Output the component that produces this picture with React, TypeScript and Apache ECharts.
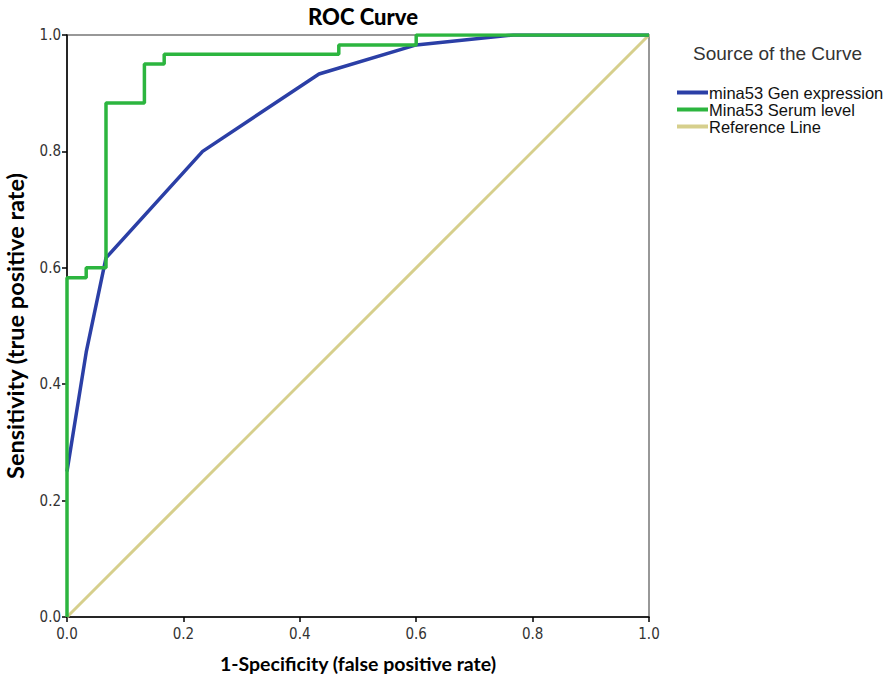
import React, { useEffect, useRef } from "react";
import * as echarts from "echarts";

const xTicks = [0, 0.2, 0.4, 0.6, 0.8, 1.0];
const geneFpr = [0, 0.033, 0.067, 0.233, 0.433, 0.6, 0.767, 1.0];
const geneSens = [0.25, 0.455, 0.617, 0.8, 0.933, 0.983, 1.0, 1.0];
const serumFpr = [0, 0, 0.033, 0.033, 0.067, 0.067, 0.133, 0.133, 0.167, 0.167, 0.467, 0.467, 0.6, 0.6, 1.0];
const serumSens = [0, 0.583, 0.583, 0.6, 0.6, 0.883, 0.883, 0.95, 0.95, 0.967, 0.967, 0.983, 0.983, 1.0, 1.0];
const refFpr = [0, 1];
const refSens = [0, 1];
const seriesNames = ["mina53 Gen expression", "Mina53 Serum level", "Reference Line"];

const zip = (a: number[], b: number[]) => a.map((v, i) => [v, b[i]]);

export default function App() {
  const ref = useRef<HTMLDivElement>(null);
  useEffect(() => {
    if (!ref.current) return;
    const chart = echarts.init(ref.current, null, { renderer: "svg" });
    const tickFont = { fontFamily: "Liberation Sans Narrow, DejaVu Sans Condensed, sans-serif", fontSize: 15, color: "#333" };
    chart.setOption({
      animation: false,
      backgroundColor: "#fff",
      title: {
        text: "ROC Curve",
        left: 358,
        top: 0,
        textAlign: "center",
        textStyle: { fontFamily: "Lato, sans-serif", fontWeight: 900, fontSize: 22, color: "#000" },
      },
      grid: { left: 67, right: 237, top: 35, bottom: 76, show: true, borderColor: "#777", borderWidth: 1.5, backgroundColor: "#fff", outerBoundsMode: "none", containLabel: false },
      xAxis: {
        type: "value",
        min: 0,
        max: 1,
        interval: 0.2,
        data: undefined,
        name: "1-Specificity (false positive rate)",
        nameLocation: "middle",
        nameGap: 36,
        nameTextStyle: { fontFamily: "Lato, sans-serif", fontWeight: "bold", fontSize: 19.5, color: "#000" },
        axisLine: { lineStyle: { color: "#000", width: 1.5 } },
        axisTick: { length: 5, lineStyle: { color: "#000", width: 1.5 } },
        axisLabel: { ...tickFont, margin: 9, formatter: (v: number) => v.toFixed(1) },
        splitLine: { show: false },
      },
      yAxis: {
        type: "value",
        min: 0,
        max: 1,
        interval: 0.2,
        name: "Sensitivity (true positive rate)",
        nameLocation: "middle",
        nameGap: 40,
        nameTextStyle: { fontFamily: "Lato, sans-serif", fontWeight: "bold", fontSize: 23.5, color: "#000" },
        axisLine: { lineStyle: { color: "#000", width: 1.5 } },
        axisTick: { length: 5, lineStyle: { color: "#000", width: 1.5 } },
        axisLabel: { ...tickFont, margin: 6, formatter: (v: number) => v.toFixed(1) },
        splitLine: { show: false },
      },
      legend: {
        orient: "vertical",
        left: 672,
        top: 79,
        itemWidth: 31,
        itemHeight: 4,
        itemGap: 0,
        icon: "rect",
        data: seriesNames,
        textStyle: { fontFamily: "Liberation Sans, Arial, sans-serif", fontSize: 16.5, color: "#111", padding: [0, 0, 0, -4] },
      },
      graphic: [
        {
          type: "text",
          left: 693,
          top: 44,
          style: { text: "Source of the Curve", fontFamily: "Liberation Sans, Arial, sans-serif", fontSize: 19, fill: "#333" },
        },
      ],
      series: [
        {
          name: seriesNames[2],
          type: "line",
          data: zip(refFpr, refSens),
          showSymbol: false,
          lineStyle: { color: "#d6cf8c", width: 3 },
          itemStyle: { color: "#d6cf8c" },
          z: 1,
        },
        {
          name: seriesNames[0],
          type: "line",
          data: zip(geneFpr, geneSens),
          showSymbol: false,
          lineStyle: { color: "#2b3fa6", width: 3.5 },
          itemStyle: { color: "#2b3fa6" },
          z: 2,
        },
        {
          name: seriesNames[1],
          type: "line",
          data: zip(serumFpr, serumSens),
          showSymbol: false,
          lineStyle: { color: "#2cb53f", width: 3.5 },
          itemStyle: { color: "#2cb53f" },
          z: 3,
        },
      ],
    });
    return () => chart.dispose();
  }, []);
  return <div ref={ref} style={{ position: "absolute", left: 0, top: 0, width: 886, height: 693 }} />;
}
